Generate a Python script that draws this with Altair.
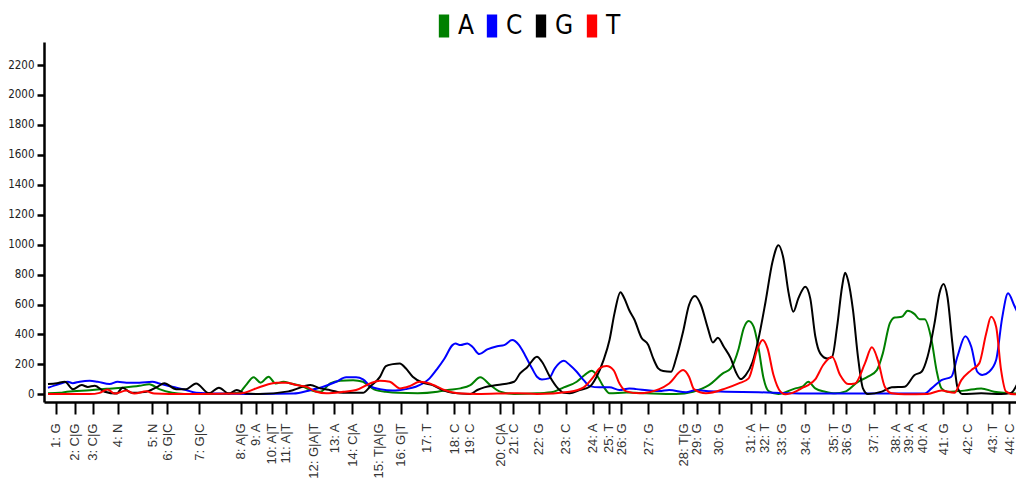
import altair as alt
import pandas as pd

# ---- trace data (scan position, signal) ----
A_X = [48, 60, 67, 90, 107, 123, 140, 150, 160, 173, 185, 200, 220, 240, 247, 255, 262, 270, 277, 285,
       292, 305, 312, 322, 332, 342, 355, 365, 372, 378, 388, 400, 420, 440, 450, 463, 473, 483, 493, 503,
       517, 540, 557, 567, 580, 588, 595, 600, 607, 613, 630, 650, 680, 697, 713, 727, 735, 743, 748, 753,
       758, 763, 768, 773, 783, 800, 807, 813, 820, 830, 840, 850, 863, 873, 882, 888, 895, 900, 907, 913,
       920, 925, 930, 937, 942, 947, 953, 970, 987, 1000, 1024]
A_Y = [8, 10, 17, 28, 37, 45, 57, 68, 35, 11, 3, 2, 3, 10, 60, 114, 78, 118, 73, 84,
       73, 51, 29, 17, 73, 91, 95, 84, 51, 28, 17, 10, 8, 18, 29, 40, 62, 114, 62, 18,
       2, 7, 18, 47, 84, 129, 158, 130, 51, 7, 12, 7, 2, 18, 62, 140, 174, 307, 441, 490,
       452, 307, 107, 22, 2, 40, 51, 84, 40, 18, 7, 18, 84, 118, 162, 274, 474, 514, 518, 558,
       536, 501, 501, 363, 162, 40, 18, 25, 40, 18, 5]

C_X = [48, 60, 68, 73, 80, 90, 98, 110, 118, 127, 140, 153, 160, 173, 187, 197, 220, 260, 295,
       312, 325, 338, 348, 358, 365, 373, 382, 395, 408, 418, 432, 440, 447, 455, 458, 463, 470, 475, 482,
       490, 500, 507, 515, 522, 528, 535, 540, 545, 552, 558, 567, 573, 580, 587, 593, 603, 613, 623, 633,
       640, 663, 673, 690, 700, 710, 730, 763, 797, 820, 930, 937, 947, 957, 963, 971, 977, 983, 988, 995,
       1002, 1008, 1014, 1020, 1024]
C_Y = [44, 70, 84, 75, 85, 91, 84, 69, 84, 78, 78, 84, 73, 51, 29, 11, 5, 3, 5,
       28, 51, 84, 114, 114, 100, 51, 35, 25, 35, 51, 107, 174, 240, 329, 340, 329, 340, 318, 269,
       300, 322, 329, 363, 329, 262, 174, 118, 100, 107, 174, 224, 196, 151, 95, 55, 47, 47, 29, 40,
       35, 22, 29, 14, 29, 22, 18, 14, 7, 5, 5, 40, 95, 118, 251, 389, 318, 151, 129, 151,
       229, 508, 675, 597, 540]

G_X = [48, 57, 65, 73, 82, 88, 95, 105, 117, 123, 132, 145, 158, 165, 177, 187, 197, 210, 220, 230,
       238, 247, 260, 290, 295, 312, 322, 332, 345, 365, 372, 382, 388, 395, 402, 408, 415, 425, 435, 445,
       455, 473, 480, 487, 500, 517, 523, 530, 540, 545, 553, 560, 567, 573, 583, 593, 600, 607, 613, 618,
       624, 628, 633, 638, 645, 652, 657, 662, 667, 675, 680, 687, 693, 699, 705, 712, 717, 722, 728, 735,
       740, 745, 750, 757, 763, 770, 777, 783, 788, 793, 798, 803, 810, 815, 820, 825, 832, 837, 842, 847,
       850, 853, 858, 863, 868, 873, 887, 897, 910, 920, 927, 933, 940, 945, 949, 953, 958, 963, 968, 987,
       1007, 1017, 1024]
G_Y = [69, 75, 85, 35, 62, 50, 58, 17, 5, 45, 10, 15, 50, 75, 35, 35, 73, 8, 45, 5,
       30, 5, 3, 20, 29, 62, 40, 28, 10, 10, 51, 117, 189, 202, 207, 174, 118, 78, 62, 28,
       10, 3, 29, 47, 62, 84, 140, 180, 251, 218, 118, 49, 11, 8, 29, 51, 118, 229, 363, 541,
       683, 640, 560, 500, 380, 330, 240, 174, 156, 151, 240, 418, 597, 657, 597, 441, 347, 378, 318, 240,
       151, 102, 129, 218, 374, 619, 886, 997, 908, 685, 552, 641, 719, 641, 390, 274, 240, 251, 452, 719,
       812, 763, 563, 251, 40, 2, 18, 47, 51, 129, 151, 251, 474, 675, 737, 652, 340, 51, 2, 7,
       2, 10, 80]

T_X = [48, 90, 100, 108, 115, 127, 135, 147, 155, 170, 200, 240, 245, 262, 278, 288, 298, 308, 318, 328,
       345, 358, 372, 382, 392, 402, 412, 422, 432, 440, 447, 460, 480, 520, 540, 573, 587, 597, 603, 610,
       617, 623, 630, 643, 663, 673, 687, 693, 698, 710, 730, 743, 753, 762, 767, 772, 778, 785, 790, 800,
       807, 813, 820, 828, 837, 845, 853, 860, 870, 877, 883, 890, 897, 910, 933, 947, 960, 967, 977, 985,
       992, 997, 1002, 1007, 1012, 1020, 1024]
T_Y = [2, 2, 10, 33, 5, 25, 5, 20, 5, 2, 2, 5, 10, 51, 78, 78, 62, 51, 17, 7,
       17, 29, 73, 91, 84, 40, 55, 84, 73, 50, 29, 7, 2, 8, 2, 18, 47, 118, 174, 189,
       162, 73, 20, 7, 35, 73, 162, 118, 35, 7, 40, 73, 107, 307, 363, 307, 129, 18, 0, 18,
       44, 62, 100, 196, 251, 129, 69, 73, 207, 314, 229, 51, 7, 0, 3, 25, 10, 95, 162, 207,
       407, 518, 452, 162, 18, 0, 0]

# ---- base-call tick positions and labels ----
TICK_POS = [56, 75, 93, 118, 153, 168, 200, 242, 257, 273, 287, 315, 336, 354, 381, 403, 429, 457, 472,
            503, 516, 542, 569, 596, 612, 625, 652, 687, 701, 723, 755, 769, 786, 810, 838, 851, 879,
            901, 914, 928, 949, 973, 998, 1015]
TICK_LABELS = ["1: G", "2: C|G", "3: C|G", "4: N", "5: N", "6: G|C", "7: G|C", "8: A|G", "9: A",
               "10: A|T", "11: A|T", "12: G|A|T", "13: A", "14: C|A", "15: T|A|G", "16: G|T", "17: T",
               "18: C", "19: C", "20: C|A", "21: C", "22: G", "23: C", "24: A", "25: T", "26: G",
               "27: G", "28: T|G", "29: G", "30: G", "31: A", "32: T", "33: G", "34: G", "35: T",
               "36: G", "37: T", "38: A", "39: A", "40: A", "41: G", "42: C", "43: T", "44: C"]

BASES = ["A", "C", "G", "T"]
COLORS = ["#008000", "#0000ff", "#000000", "#ff0000"]
Y_TICKS = [0, 200, 400, 600, 800, 1000, 1200, 1400, 1600, 1800, 2000, 2200]

NARROW = "DejaVu Sans Condensed, Liberation Sans, sans-serif"

rows = []
for base, xs, ys in (("A", A_X, A_Y), ("C", C_X, C_Y), ("G", G_X, G_Y), ("T", T_X, T_Y)):
    for x, y in zip(xs, ys):
        rows.append({"base": base, "scan": x, "signal": y})
df = pd.DataFrame(rows)

pos_js = ",".join(str(p) for p in TICK_POS)
lab_js = ",".join("'" + l + "'" for l in TICK_LABELS)
label_expr = f"[{lab_js}][indexof([{pos_js}], datum.value)]"

color_scale = alt.Scale(domain=BASES, range=COLORS)

legend = alt.Legend(
    title=None, orient="none", legendX=387, legendY=-29, direction="horizontal",
    symbolType="M-0.45,-1H0.45V1H-0.45Z", symbolSize=529, symbolStrokeWidth=0,
    symbolOpacity=1,
    labelFont=NARROW, labelFontSize=26, labelColor="#000000",
    labelOffset=1, columnPadding=5, padding=0,
)

base = alt.Chart(df).encode(
    x=alt.X("scan:Q",
            scale=alt.Scale(domain=[44, 1022], nice=False, zero=False),
            axis=alt.Axis(values=TICK_POS, labelExpr=label_expr, title=None, grid=False,
                          domainColor="#000000", domainWidth=2.5, tickColor="#000000", tickWidth=2,
                          tickSize=12, labelAngle=270, labelAlign="right", labelBaseline="middle",
                          labelFont="Liberation Sans", labelFontSize=13, labelColor="#333333",
                          labelPadding=9, labelOverlap=False, labelFlush=False, labelBound=False)),
    y=alt.Y("signal:Q",
            scale=alt.Scale(domain=[-51, 2354], nice=False, zero=False),
            axis=alt.Axis(values=Y_TICKS, format="d", title=None, grid=False, domainColor="#000000",
                          domainWidth=2.5, tickColor="#000000", tickWidth=2.5, tickSize=7,
                          labelFont=NARROW, labelFontSize=11.5, labelColor="#222222",
                          labelPadding=3)),
)

lines = base.mark_line(interpolate="monotone", strokeWidth=2, clip=True).encode(
    color=alt.Color("base:N", scale=color_scale, legend=None),
)
keys = base.mark_point(filled=True, opacity=0, clip=True).encode(
    color=alt.Color("base:N", scale=color_scale, legend=legend),
)

chart = alt.layer(lines, keys).resolve_legend(color="independent").properties(
    width=972, height=360,
    autosize=alt.AutoSizeParams(type="none"),
    padding={"left": 36, "top": 34, "right": 0, "bottom": 90},
    background="white",
).configure_view(stroke=None)

chart.save("out.html", embed_options={"renderer": "svg", "actions": False})
